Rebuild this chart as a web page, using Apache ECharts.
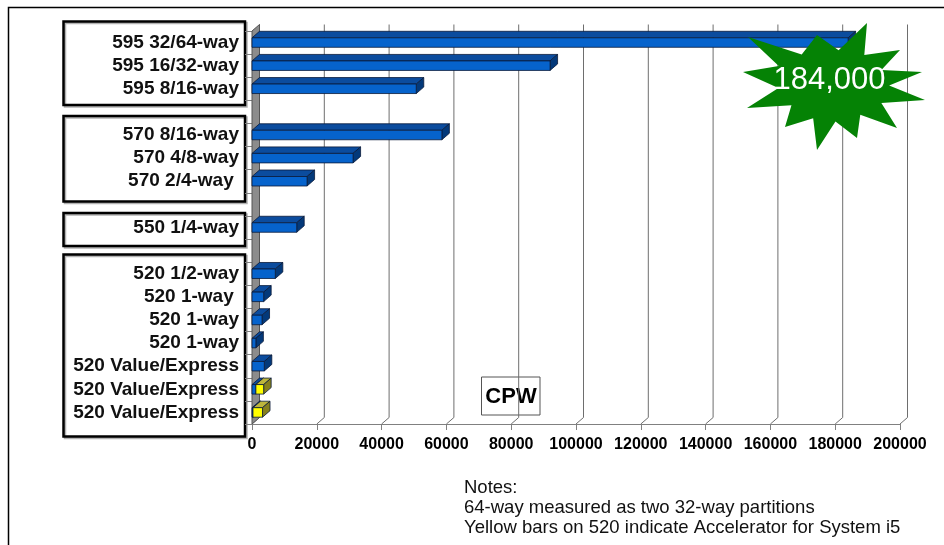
<!DOCTYPE html>
<html lang="en">
  <head>
    <meta charset="UTF-8" />
    <title>CPW</title>
    <script src="https://cdn.jsdelivr.net/npm/echarts@6.0.0/dist/echarts.min.js"></script>
    <style>
      * {
        padding: 0;
        margin: 0;
      }
      #main {
        width: 944px;
        height: 545px;
        background: #fff;
      }
    </style>
  </head>
  <body>
    <div id="main"></div>
    <script>
      // rows top to bottom, '' = empty slot between groups
      var categories = [
        "595 32/64-way",
        "595 16/32-way",
        "595 8/16-way",
        "",
        "570 8/16-way",
        "570 4/8-way",
        "570 2/4-way ",
        "",
        "550 1/4-way",
        "",
        "520 1/2-way",
        "520 1-way ",
        "520 1-way",
        "520 1-way",
        "520 Value/Express",
        "520 Value/Express",
        "520 Value/Express",
      ];
      var cpwValues = [
        184000, 92000, 50700, null, 58600, 31200, 17000, null, 13800, null,
        7200, 3600, 3100, 1200, 3800, 1200, 300,
      ];
      // extra part from the Accelerator for System i5 (yellow)
      var acceleratorValues = [
        null, null, null, null, null, null, null, null, null, null, null,
        null, null, null, null, 2400, 2950,
      ];
      var xTicks = [
        0, 20000, 40000, 60000, 80000, 100000, 120000, 140000, 160000,
        180000, 200000,
      ];
      var peakLabel = "184,000";
      var notes = [
        "Notes:",
        "64-way measured as two 32-way partitions",
        "Yellow bars on 520 indicate Accelerator for System i5",
      ];

      var font = "'Liberation Sans', Arial, sans-serif";
      var depthX = 7.5;
      var depthY = 6.5;
      var barH = 9.5;

      var blueData = [];
      var yellowData = [];
      cpwValues.forEach(function (v, i) {
        if (v != null) blueData.push([i, 0, v]);
        if (acceleratorValues[i] != null)
          yellowData.push([i, v || 0, (v || 0) + acceleratorValues[i]]);
      });

      function bar3d(front, topc, side) {
        return function (params, api) {
          var cat = api.value(0);
          var p0 = api.coord([api.value(1), cat]);
          var p1 = api.coord([api.value(2), cat]);
          var t = p0[1] - barH / 2;
          var b = p0[1] + barH / 2;
          var x0 = p0[0];
          var x1 = p1[0];
          var stroke = { stroke: "#0a1a3a", lineWidth: 0.8 };
          return {
            type: "group",
            children: [
              {
                type: "polygon",
                shape: {
                  points: [
                    [x0, t],
                    [x1, t],
                    [x1 + depthX, t - depthY],
                    [x0 + depthX, t - depthY],
                  ],
                },
                style: Object.assign({ fill: topc }, stroke),
              },
              {
                type: "polygon",
                shape: {
                  points: [
                    [x1, t],
                    [x1 + depthX, t - depthY],
                    [x1 + depthX, b - depthY],
                    [x1, b],
                  ],
                },
                style: Object.assign({ fill: side }, stroke),
              },
              {
                type: "rect",
                shape: { x: x0, y: t, width: x1 - x0, height: b - t },
                style: Object.assign({ fill: front }, stroke),
              },
            ],
          };
        };
      }

      var myChart = echarts.init(document.getElementById("main"));
      var option = {
        backgroundColor: "#ffffff",
        animation: false,
        grid: {
          left: 252,
          top: 31,
          width: 648,
          height: 393,
          containLabel: false,
        },
        xAxis: {
          type: "value",
          min: 0,
          max: 200000,
          interval: 20000,
          axisLine: { show: true, lineStyle: { color: "#808080", width: 1 } },
          axisTick: { show: true, length: 6, lineStyle: { color: "#808080" } },
          axisLabel: {
            margin: 13,
            color: "#000",
            fontSize: 16,
            fontWeight: "bold",
            fontFamily: font,
            formatter: function (v) {
              return String(v);
            },
          },
          splitLine: { show: false },
        },
        yAxis: {
          type: "category",
          inverse: true,
          data: categories,
          axisLine: { show: false },
          axisTick: { show: true, length: 7, lineStyle: { color: "#808080" } },
          axisLabel: {
            interval: 0,
            margin: 13,
            color: "#111",
            fontSize: 19,
            fontWeight: "bold",
            fontFamily: font,
          },
        },
        series: [
          {
            // back gridlines + floor diagonals
            type: "custom",
            z: 1,
            silent: true,
            data: xTicks,
            encode: { x: 0 },
            renderItem: function (params, api) {
              var cs = params.coordSys;
              var px = api.coord([api.value(0), 0])[0];
              var floor = cs.y + cs.height;
              return {
                type: "polyline",
                shape: {
                  points: [
                    [px, floor],
                    [px + depthX, floor - depthY],
                    [px + depthX, cs.y - depthY],
                  ],
                },
                style: { stroke: "#6e6e6e", lineWidth: 1, fill: null },
              };
            },
          },
          {
            // left wall
            type: "custom",
            z: 2,
            silent: true,
            data: [[0]],
            encode: { x: 0 },
            renderItem: function (params, api) {
              var cs = params.coordSys;
              return {
                type: "polygon",
                shape: {
                  points: [
                    [cs.x, cs.y],
                    [cs.x + depthX, cs.y - depthY],
                    [cs.x + depthX, cs.y + cs.height - depthY],
                    [cs.x, cs.y + cs.height],
                  ],
                },
                style: { fill: "#8c8c8c", stroke: "#555", lineWidth: 1 },
              };
            },
          },
          {
            name: "CPW",
            type: "custom",
            z: 3,
            data: blueData,
            encode: { x: [1, 2], y: 0 },
            renderItem: bar3d("#0663cc", "#0b4c9e", "#03397a"),
          },
          {
            name: "Accelerator",
            type: "custom",
            z: 4,
            data: yellowData,
            encode: { x: [1, 2], y: 0 },
            renderItem: bar3d("#ffff00", "#bdb53c", "#86801e"),
          },
        ],
      };

      // decoration: frame, group boxes, CPW box, star, notes
      var boxes = [
        [63.5, 21.5, 181.5, 83.5],
        [63.5, 116, 181.5, 85.5],
        [63.5, 213, 181.5, 33],
        [63.5, 254.5, 181.5, 182],
      ];
      var graphics = [
        {
          type: "polyline",
          shape: {
            points: [
              [8.5, 545],
              [8.5, 7.5],
              [944, 7.5],
            ],
          },
          style: { stroke: "#000", lineWidth: 1.5, fill: null },
        },
      ];
      boxes.forEach(function (b) {
        graphics.push({
          type: "rect",
          shape: { x: b[0], y: b[1], width: b[2], height: b[3] },
          style: {
            fill: null,
            stroke: "#000",
            lineWidth: 2.5,
            shadowColor: "rgba(0,0,0,0.3)",
            shadowOffsetX: 1.5,
            shadowOffsetY: 1.5,
          },
        });
      });
      graphics.push({
        type: "rect",
        shape: { x: 481.5, y: 377, width: 58.5, height: 38 },
        style: { fill: null, stroke: "#555", lineWidth: 1 },
      });
      graphics.push({
        type: "text",
        x: 511,
        y: 397,
        style: {
          text: "CPW",
          fill: "#000",
          font: "bold 22px " + font,
          align: "center",
          verticalAlign: "middle",
        },
      });

      // starburst
      var starC = [833, 85];
      var starTips = [
        [748, 37], [817, 35], [867, 23], [900, 50], [922, 72], [925, 100],
        [897, 128], [857, 138], [817, 150], [785, 127], [747, 108], [743, 72],
      ];
      var starPts = [];
      starTips.forEach(function (p, i) {
        var q = starTips[(i + 1) % starTips.length];
        starPts.push(p);
        starPts.push([
          starC[0] + 0.62 * ((p[0] + q[0]) / 2 - starC[0]),
          starC[1] + 0.62 * ((p[1] + q[1]) / 2 - starC[1]),
        ]);
      });
      graphics.push({
        type: "polygon",
        z: 100,
        shape: { points: starPts },
        style: { fill: "#058205", stroke: null },
      });
      graphics.push({
        type: "text",
        z: 101,
        x: 829.5,
        y: 80,
        style: {
          text: peakLabel,
          fill: "#ffffff",
          font: "31px " + font,
          align: "center",
          verticalAlign: "middle",
        },
      });

      notes.forEach(function (t, i) {
        graphics.push({
          type: "text",
          x: 464,
          y: 488 + i * 19.8,
          style: {
            text: t,
            fill: "#111",
            font: "18.5px " + font,
            align: "left",
            verticalAlign: "middle",
          },
        });
      });
      option.graphic = graphics;

      myChart.setOption(option);
    </script>
  </body>
</html>
